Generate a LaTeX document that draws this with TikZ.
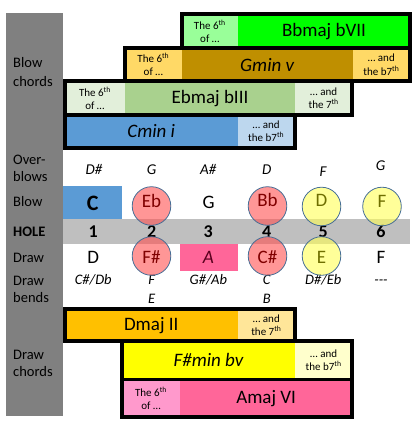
\documentclass[tikz,border=0pt]{standalone}
\usepackage{fontspec}
\setmainfont{Carlito}
\definecolor{colgray}{RGB}{128,128,128}
\definecolor{bandgray}{RGB}{191,191,191}
\definecolor{bbl}{RGB}{153,255,153}
\definecolor{bbm}{RGB}{0,255,0}
\definecolor{gml}{RGB}{255,217,102}
\definecolor{gmm}{RGB}{191,143,0}
\definecolor{ebl}{RGB}{226,239,218}
\definecolor{ebm}{RGB}{169,209,142}
\definecolor{cmm}{RGB}{91,155,213}
\definecolor{cml}{RGB}{189,215,238}
\definecolor{dmm}{RGB}{255,192,0}
\definecolor{dml}{RGB}{255,230,153}
\definecolor{fmm}{RGB}{255,255,0}
\definecolor{fml}{RGB}{255,255,204}
\definecolor{aml}{RGB}{255,153,204}
\definecolor{amm}{RGB}{255,102,153}
\definecolor{redfill}{RGB}{255,80,80}
\definecolor{yelfill}{RGB}{255,255,85}
\definecolor{ringcol}{RGB}{70,110,150}
\definecolor{redtext}{RGB}{128,0,0}
\definecolor{yeltext}{RGB}{110,110,0}
\definecolor{atext}{RGB}{90,0,30}
\begin{document}
\begin{tikzpicture}[x=1pt,y=-1pt,
  lab/.style={anchor=base west,inner sep=0pt,font=\fontsize{14.5}{17}\selectfont},
  chord/.style={inner sep=0pt,font=\fontsize{19}{22}\selectfont},
  chordit/.style={chord,font=\fontsize{19}{22}\selectfont\itshape},
  small/.style={inner sep=0pt,align=center,font=\fontsize{11}{13.3}\selectfont},
  ob/.style={anchor=base,inner sep=0pt,font=\fontsize{15}{18}\selectfont\itshape},
  big/.style={anchor=base,inner sep=0pt,font=\fontsize{19}{22}\selectfont},
  hole/.style={anchor=base,inner sep=0pt,font=\fontsize{18}{21}\selectfont\bfseries},
  bendtxt/.style={anchor=base,inner sep=0pt,font=\fontsize{14.5}{17}\selectfont\itshape},
  border/.style={draw=black,line width=3.7pt},
  ring/.style={circle,draw=ringcol,line width=0.8pt,minimum size=38.6pt,inner sep=0pt,fill opacity=0.6},
]
\useasboundingbox (0,0) rectangle (418,421);
% background areas
\fill[colgray] (6,13) rectangle (63,416);
\fill[bandgray] (63,219.3) rectangle (410,244.3);
\fill[cmm] (63,185.7) rectangle (122.3,219.3);
\fill[amm] (180,244.3) rectangle (237.7,270.7);
% blow chords fills
\fill[bbl] (181.7,14.3) rectangle (238,48);
\fill[bbm] (238,14.3) rectangle (410,48);
\fill[gml] (125,48) rectangle (181.7,81.2);
\fill[gmm] (181.7,48) rectangle (352.7,81.2);
\fill[gml] (352.7,48) rectangle (410,81.2);
\fill[ebl] (64.8,81.2) rectangle (125,115);
\fill[ebm] (125,81.2) rectangle (295,115);
\fill[ebl] (295,81.2) rectangle (352.3,115);
\fill[cmm] (64.8,115) rectangle (237.7,148);
\fill[cml] (237.7,115) rectangle (294.7,148);
% draw chords fills
\fill[dmm] (64.8,309) rectangle (237.7,341.3);
\fill[dml] (237.7,309) rectangle (295,341.3);
\fill[fmm] (122,341.3) rectangle (295,379.5);
\fill[fml] (295,341.3) rectangle (352.3,379.5);
\fill[aml] (122,379.5) rectangle (180,416.7);
\fill[amm] (180,379.5) rectangle (352.3,416.7);
% borders
\draw[border] (181.7,14.3) rectangle (410,48);
\draw[border] (125,48) rectangle (410,81.2);
\draw[border] (64.8,81.2) rectangle (352.3,115);
\draw[border] (64.8,115) rectangle (294.7,148);
\draw[border] (64.8,309) rectangle (295,341.3);
\draw[border] (122,341.3) rectangle (352.3,379.5);
\draw[border] (122,379.5) rectangle (352.3,416.7);
% chord texts
\node[small] (bbs) at (209.85,31.15) {The 6\textsuperscript{th}\\of …};
\node[chord] (bbn) at (324,31.15) {Bbmaj bVII};
\node[small] (gms) at (153.35,64.6) {The 6\textsuperscript{th}\\of …};
\node[chordit] (gmn) at (267.2,64.6) {Gmin v};
\node[small] (gme) at (381.35,64.6) {… and\\the b7\textsuperscript{th}};
\node[small] (ebs) at (94.9,98.1) {The 6\textsuperscript{th}\\of …};
\node[chord] (ebn) at (210,98.1) {Ebmaj bIII};
\node[small] (ebe) at (323.65,98.1) {… and\\the 7\textsuperscript{th}};
\node[chordit] (cmn) at (151.25,131.5) {Cmin i};
\node[small] (cme) at (266.2,131.5) {… and\\the b7\textsuperscript{th}};
\node[chord] (dmn) at (151.25,325.15) {Dmaj II};
\node[small] (dme) at (266.35,325.15) {… and\\the 7\textsuperscript{th}};
\node[chordit] (fmn) at (208.5,360.4) {F\#min bv};
\node[small] (fme) at (323.65,360.4) {… and\\the b7\textsuperscript{th}};
\node[small] (ams) at (151,398.1) {The 6\textsuperscript{th}\\of …};
\node[chord] (amn) at (266.15,398.1) {Amaj VI};
% left labels
\node[lab] (l1a) at (13,67.7) {Blow};
\node[lab] (l1b) at (13,86) {chords};
\node[lab] (l2a) at (13,164) {Over-};
\node[lab] (l2b) at (13,181.7) {blows};
\node[lab] (l3) at (13,206.7) {Blow};
\node[lab,font=\fontsize{14.5}{17}\selectfont\bfseries] (l4) at (13,236.7) {HOLE};
\node[lab] (l5) at (13,262.7) {Draw};
\node[lab] (l6a) at (13,285) {Draw};
\node[lab] (l6b) at (13,302.7) {bends};
\node[lab] (l7a) at (13,359.3) {Draw};
\node[lab] (l7b) at (13,376) {chords};
% overblows
\node[ob] (o1) at (94,174.5) {D\#};
\node[ob] (o2) at (151.7,174.5) {G};
\node[ob] (o3) at (208.3,174.5) {A\#};
\node[ob] (o4) at (266.7,174.5) {D};
\node[ob] (o5) at (323,176) {F};
\node[ob] (o6) at (380.7,170.7) {G};
% blow row plain
\node[anchor=base,inner sep=0pt,font=\fontsize{22}{25}\selectfont\bfseries] (b1) at (92.7,210.7) {C};
\node[big] (b3) at (208.5,208.6) {G};
% hole numbers
\node[hole] (h1) at (93.3,237.3) {1};
\node[hole] (h2) at (151.7,237.3) {2};
\node[hole] (h3) at (208.3,237.3) {3};
\node[hole] (h4) at (266.7,237.3) {4};
\node[hole] (h5) at (323.3,237.3) {5};
\node[hole] (h6) at (381,237.3) {6};
% draw row plain
\node[big] (d1) at (93.3,263.7) {D};
\node[big,font=\fontsize{19}{22}\selectfont\itshape,text=atext] (d3) at (208.3,263.7) {A};
\node[big] (d6) at (381,263.7) {F};
% bends
\node[bendtxt] (e1) at (93.3,284) {C\#/Db};
\node[bendtxt] (e2) at (151.7,284) {F};
\node[bendtxt] (e3) at (208.3,284) {G\#/Ab};
\node[bendtxt] (e4) at (266.7,284) {C};
\node[bendtxt] (e5) at (323.3,284) {D\#/Eb};
\node[bendtxt] (e6) at (381,284) {-{}-{}-};
\node[bendtxt] (e7) at (151.7,303.3) {E};
\node[bendtxt] (e8) at (266.7,303.3) {B};
% circles
\node[ring,fill=redfill] (r2b) at (151.5,206) {};
\node[ring,fill=redfill] (r4b) at (267.5,206) {};
\node[ring,fill=yelfill] (r5b) at (321.5,206.5) {};
\node[ring,fill=yelfill] (r6b) at (382,206.5) {};
\node[ring,fill=redfill] (r2d) at (151.5,256) {};
\node[ring,fill=redfill] (r4d) at (267.5,256) {};
\node[ring,fill=yelfill] (r5d) at (321.5,256) {};
% circle texts
\node[big,text=redtext] (t2b) at (151.5,207) {Eb};
\node[big,text=redtext] (t4b) at (267.5,206.6) {Bb};
\node[big,text=yeltext] (t5b) at (321.5,206.6) {D};
\node[big,text=yeltext] (t6b) at (382,207.6) {F};
\node[big,text=redtext] (t2d) at (151.5,263.5) {F\#};
\node[big,text=redtext] (t4d) at (267.5,263.5) {C\#};
\node[big,text=yeltext] (t5d) at (321.5,263.5) {E};
\end{tikzpicture}
\end{document}
